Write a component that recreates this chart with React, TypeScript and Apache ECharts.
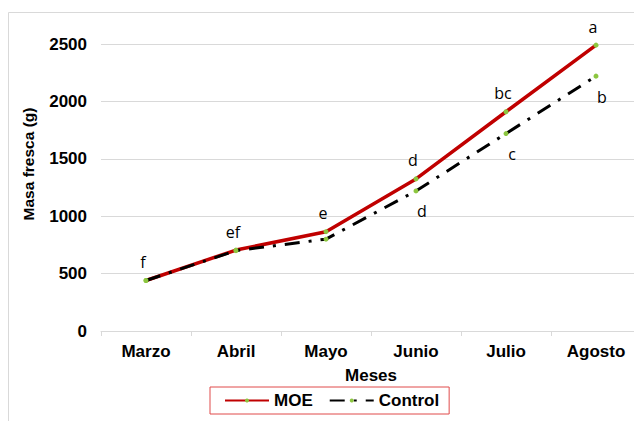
import React, { useEffect, useRef } from "react";
import * as echarts from "echarts";

const months = ["Marzo", "Abril", "Mayo", "Junio", "Julio", "Agosto"];
const moeValues = [440, 705, 865, 1325, 1910, 2490];
const controlValues = [440, 700, 800, 1220, 1720, 2220];
const moeLetters = ["f", "ef", "e", "d", "bc", "a"];
const controlLetters = ["", "", "", "d", "c", "b"];
const yTicks = [0, 500, 1000, 1500, 2000, 2500];

const FONT = "'Liberation Sans', Arial, sans-serif";
const LETTER_FONT = "'Open Sans', 'Noto Sans', sans-serif";

export default function App() {
  const ref = useRef<HTMLDivElement>(null);
  useEffect(() => {
    if (!ref.current) return;
    const chart = echarts.init(ref.current, undefined, { renderer: "svg" });
    const dotColor = "#8CC63F";
    chart.setOption({
      animation: false,
      backgroundColor: "#ffffff",
      grid: { left: 101, top: 44, width: 540, height: 287, outerBoundsMode: "none" },
      graphic: [
        {
          type: "line",
          shape: { x1: 8.5, y1: 12.5, x2: 634, y2: 12.5 },
          style: { stroke: "#d9d9d9", lineWidth: 1 },
          silent: true,
        },
        {
          type: "line",
          shape: { x1: 8.5, y1: 12.5, x2: 8.5, y2: 421 },
          style: { stroke: "#d9d9d9", lineWidth: 1 },
          silent: true,
        },
        {
          type: "text",
          x: 28,
          y: 164,
          rotation: Math.PI / 2,
          style: {
            text: "Masa fresca (g)",
            align: "center",
            verticalAlign: "middle",
            font: `bold 15.5px ${FONT}`,
            fill: "#000",
          },
        },
      ],
      legend: {
        left: 210,
        top: 387,
        padding: [5, 10, 5, 14],
        borderColor: "#E04B4B",
        borderWidth: 1,
        itemWidth: 44,
        itemHeight: 5,
        itemGap: 16,
        textStyle: { fontFamily: FONT, fontWeight: "bold", fontSize: 17, color: "#000" },
        data: ["MOE", "Control"],
      },
      xAxis: {
        type: "category",
        data: months,
        boundaryGap: true,
        name: "Meses",
        nameLocation: "middle",
        nameGap: 36,
        nameTextStyle: { fontFamily: FONT, fontWeight: "bold", fontSize: 17, color: "#000" },
        axisLine: { lineStyle: { color: "#d9d9d9", width: 1 } },
        axisTick: { show: true, length: 5, lineStyle: { color: "#d9d9d9" } },
        axisLabel: { fontFamily: FONT, fontWeight: "bold", fontSize: 17, color: "#000", margin: 12 },
      },
      yAxis: {
        type: "value",
        min: yTicks[0],
        max: yTicks[yTicks.length - 1],
        interval: 500,
        axisLine: { show: false },
        axisTick: { show: false },
        splitLine: { lineStyle: { color: "#d9d9d9", width: 1 } },
        axisLabel: {
          fontFamily: FONT,
          fontWeight: "bold",
          fontSize: 17,
          color: "#000",
          margin: 14,
          formatter: (v: number) => String(v),
        },
      },
      series: [
        {
          name: "MOE",
          type: "line",
          data: moeValues,
          symbol: "circle",
          symbolSize: 5,
          itemStyle: { color: dotColor },
          lineStyle: { color: "#C00000", width: 3.5 },
          z: 2,
          label: {
            show: true,
            position: "top",
            distance: 8,
            offset: [-3, 0],
            formatter: (p: any) => moeLetters[p.dataIndex],
            fontFamily: LETTER_FONT,
            fontSize: 16,
            color: "#000",
          },
        },
        {
          name: "Control",
          type: "line",
          data: controlValues,
          symbol: "circle",
          symbolSize: 5,
          itemStyle: { color: dotColor },
          lineStyle: { color: "#000", width: 3, type: [15, 9, 3, 9] },
          z: 3,
          label: {
            show: true,
            position: "bottom",
            distance: 10,
            offset: [6, 0],
            formatter: (p: any) => controlLetters[p.dataIndex],
            fontFamily: LETTER_FONT,
            fontSize: 16,
            color: "#000",
          },
        },
      ],
    });
    return () => chart.dispose();
  }, []);
  return (
    <div
      ref={ref}
      style={{ position: "absolute", left: 0, top: 0, width: 634, height: 421, overflow: "hidden" }}
    />
  );
}
